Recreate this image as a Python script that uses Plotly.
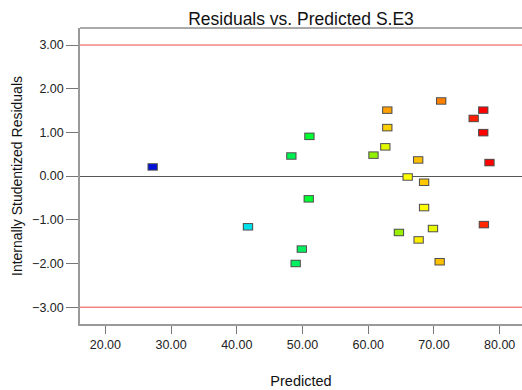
import plotly.graph_objects as go

# Data
predicted = [27.2, 41.7, 51.05, 48.3, 62.9, 62.9, 62.6, 60.8, 67.6, 66.0, 68.5, 71.1,
             77.5, 76.05, 77.5, 78.45, 50.95, 49.9, 48.96, 64.67, 68.5, 69.85, 67.67,
             70.87, 77.6]
residuals = [0.21, -1.16, 0.91, 0.46, 1.51, 1.11, 0.67, 0.48, 0.37, -0.02, -0.14, 1.72,
             1.51, 1.32, 0.995, 0.31, -0.52, -1.67, -2.00, -1.29, -0.72, -1.20, -1.46,
             -1.96, -1.11]
limits = [3.0, -3.0]
x_ticks = [20, 30, 40, 50, 60, 70, 80]
y_ticks = [-3, -2, -1, 0, 1, 2, 3]

# Style: point colours (as in the reference)
point_colors = ['#0010d8', '#00e0e8', '#00ff30', '#00f050', '#ffa000', '#ffd000',
                '#e0f800', '#90f000', '#ffc000', '#ffff00', '#ffc800', '#ff8000',
                '#ff0000', '#ff2000', '#ff0000', '#ff0000', '#00ff30', '#00f060',
                '#00f060', '#98f000', '#ffff00', '#e8f800', '#ffef00', '#ffc000',
                '#ff2800']

FONT = "Liberation Sans, Arial, sans-serif"

fig = go.Figure()
# border of rectangular markers
fig.add_trace(go.Scatter(
    x=predicted, y=residuals, mode="markers", hoverinfo="skip", showlegend=False,
    marker=dict(symbol="line-ew", size=7.4, color="#505050",
                line=dict(color="#505050", width=7.5)),
))
# coloured fill of rectangular markers
fig.add_trace(go.Scatter(
    x=predicted, y=residuals, mode="markers", showlegend=False,
    marker=dict(symbol="line-ew", size=5.9, color=point_colors,
                line=dict(color=point_colors, width=5.5)),
))

shapes = []
for lv in limits:
    shapes.append(dict(type="line", xref="paper", x0=0, x1=1, yref="y", y0=lv, y1=lv,
                       line=dict(color="#ee4a4a", width=1), layer="above"))
shapes.append(dict(type="line", xref="paper", x0=0, x1=1, yref="paper", y0=1, y1=1,
                   line=dict(color="#555555", width=1)))

fig.update_layout(
    width=522, height=390,
    margin=dict(l=80, r=0, t=28, b=66),
    paper_bgcolor="white", plot_bgcolor="white",
    font=dict(family=FONT, color="#222222"),
    title=dict(text="Residuals vs. Predicted S.E3", x=0.5, xref="paper",
               y=1 - 18.5 / 390, yref="container", yanchor="middle",
               font=dict(size=17.5, color="#111111", family=FONT)),
    shapes=shapes,
    xaxis=dict(range=[16.14, 83.4], tickvals=x_ticks, tickformat=".2f",
               showgrid=False, zeroline=False, showline=True, linecolor="#999999",
               linewidth=1.5, ticks="outside", ticklen=8, tickcolor="#777777",
               tickwidth=1, tickfont=dict(size=12.5, color="#222222"),
               title=dict(text="Predicted", font=dict(size=14.5, color="#111111"),
                          standoff=25)),
    yaxis=dict(range=[-3.385, 3.39], tickvals=y_ticks, tickformat=".2f",
               showgrid=False, zeroline=True, zerolinecolor="#555555", zerolinewidth=1,
               showline=True, linecolor="#999999", linewidth=1.5,
               ticks="outside", ticklen=12, tickcolor="#777777", tickwidth=1,
               tickfont=dict(size=12.5, color="#222222"),
               title=dict(text="Internally Studentized Residuals",
                          font=dict(size=14, color="#111111"), standoff=6)),
)

fig.write_html("out.html")
